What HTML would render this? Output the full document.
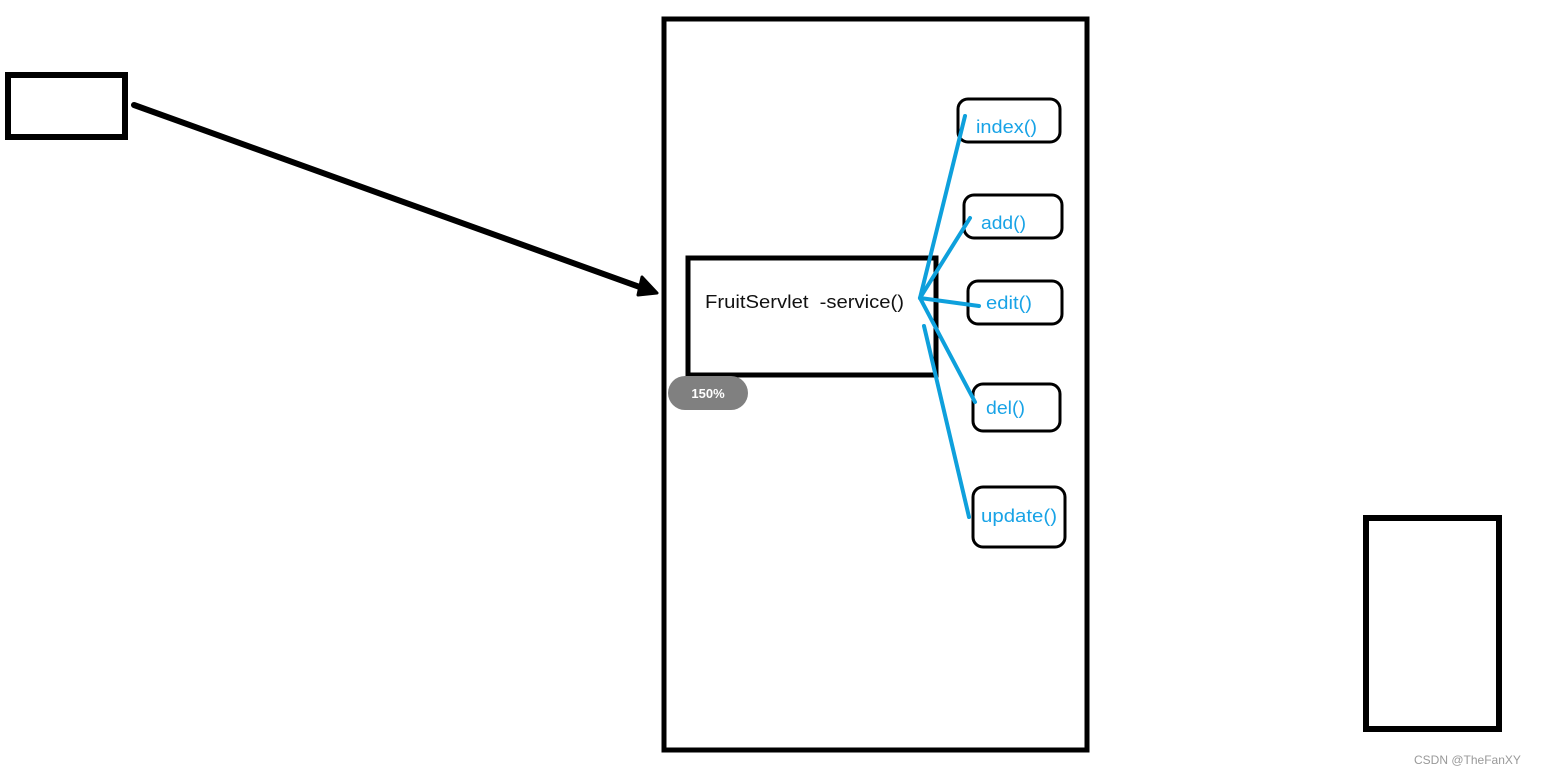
<!DOCTYPE html>
<html><head><meta charset="utf-8"><style>
html,body{margin:0;padding:0;background:#fff;}
svg{display:block;}
</style></head><body>
<svg width="1542" height="773" viewBox="0 0 1542 773" xmlns="http://www.w3.org/2000/svg">
<rect x="0" y="0" width="1542" height="773" fill="#fff"/>
<rect x="8" y="75" width="117" height="62" fill="none" stroke="#000" stroke-width="6"/>
<line x1="134" y1="105" x2="648" y2="290" stroke="#000" stroke-width="6" stroke-linecap="round"/>
<polygon points="642,277 657,293 638,295" fill="#000" stroke="#000" stroke-width="3" stroke-linejoin="round"/>
<rect x="664" y="19" width="423" height="731" fill="none" stroke="#000" stroke-width="5"/>
<rect x="688" y="258" width="248" height="117" fill="none" stroke="#000" stroke-width="5"/>
<text x="705" y="308" xml:space="preserve" font-family="Liberation Sans, sans-serif" font-size="18" fill="#111" textLength="199" lengthAdjust="spacingAndGlyphs">FruitServlet  -service()</text>
<g fill="none" stroke="#000" stroke-width="3">
<rect x="958" y="99" width="102" height="43" rx="10"/>
<rect x="964" y="195" width="98" height="43" rx="10"/>
<rect x="968" y="281" width="94" height="43" rx="10"/>
<rect x="973" y="384" width="87" height="47" rx="10"/>
<rect x="973" y="487" width="92" height="60" rx="10"/>
</g>
<g font-family="Liberation Sans, sans-serif" font-size="18" fill="#18a3e6">
<text x="976" y="133" textLength="61" lengthAdjust="spacingAndGlyphs">index()</text>
<text x="981" y="229" textLength="45" lengthAdjust="spacingAndGlyphs">add()</text>
<text x="986" y="309" textLength="46" lengthAdjust="spacingAndGlyphs">edit()</text>
<text x="986" y="414" textLength="39" lengthAdjust="spacingAndGlyphs">del()</text>
<text x="981" y="522" textLength="76" lengthAdjust="spacingAndGlyphs">update()</text>
</g>
<g stroke="#0ea0dc" stroke-width="4" stroke-linecap="round" fill="none">
<line x1="920" y1="298" x2="965" y2="116"/>
<line x1="920" y1="298" x2="970" y2="218"/>
<line x1="920" y1="298" x2="979" y2="306"/>
<line x1="920" y1="298" x2="975" y2="402"/>
<line x1="924" y1="326" x2="969" y2="517"/>
</g>
<rect x="668" y="376" width="80" height="34" rx="17" fill="#808080"/>
<text x="708" y="398" text-anchor="middle" font-family="Liberation Sans, sans-serif" font-size="13" font-weight="bold" fill="#fff">150%</text>
<rect x="1366" y="518" width="133" height="211" fill="none" stroke="#000" stroke-width="6"/>
<text x="1414" y="764" font-family="Liberation Sans, sans-serif" font-size="12" fill="#999">CSDN @TheFanXY</text>
</svg>
</body></html>
